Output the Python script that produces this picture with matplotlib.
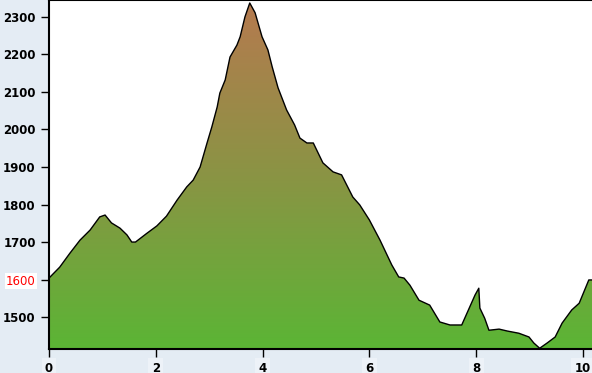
import numpy as np
import matplotlib
matplotlib.use("Agg")
import matplotlib.pyplot as plt
from matplotlib.colors import LinearSegmentedColormap

# elevation profile (distance, elevation)
dist = [0.0, 0.2, 0.39, 0.58, 0.77, 0.95, 1.05, 1.17, 1.33, 1.46, 1.55, 1.62,
        1.83, 2.02, 2.2, 2.4, 2.58, 2.7, 2.83, 2.96, 3.05, 3.15, 3.2, 3.3,
        3.39, 3.52, 3.58, 3.67, 3.76, 3.86, 3.99, 4.1, 4.18, 4.29, 4.45, 4.6,
        4.7, 4.83, 4.95, 5.13, 5.32, 5.48, 5.69, 5.82, 6.0, 6.2, 6.42, 6.55,
        6.65, 6.76, 6.93, 7.13, 7.32, 7.51, 7.73, 7.88, 7.98, 8.05, 8.07,
        8.16, 8.24, 8.43, 8.58, 8.8, 8.99, 9.08, 9.19, 9.33, 9.48, 9.61,
        9.79, 9.93, 10.11, 10.17]
elev = [1604, 1633, 1670, 1705, 1732, 1767, 1772, 1751, 1737, 1719, 1700, 1700,
        1723, 1743, 1769, 1812, 1847, 1865, 1900, 1964, 2007, 2060, 2097, 2132,
        2193, 2225, 2247, 2300, 2337, 2311, 2247, 2212, 2167, 2111, 2052, 2012,
        1977, 1964, 1964, 1911, 1887, 1879, 1820, 1799, 1759, 1705, 1639, 1607,
        1604, 1585, 1545, 1532, 1487, 1479, 1479, 1527, 1559, 1577, 1524,
        1497, 1465, 1468, 1463, 1457, 1447, 1431, 1417, 1431, 1447, 1484,
        1519, 1537, 1599, 1599]

y_ticks = [1500, 1600, 1700, 1800, 1900, 2000, 2100, 2200, 2300]
x_ticks = [0, 2, 4, 6, 8, 10]

x_min, x_max = 0, 10.17
y_min, y_max = 1415, 2345

bg = "#e4ecf4"
fig = plt.figure(figsize=(5.92, 3.73), dpi=100, facecolor=bg)
ax = fig.add_axes([49 / 592, 24 / 373, 1 - 49 / 592, 1 - 24 / 373])
ax.set_facecolor("white")

# green at the bottom, brown at the peak
cmap = LinearSegmentedColormap.from_list("terrain", ["#5bb535", "#8a9444", "#b57a4f"])
grad = np.linspace(0, 1, 256).reshape(-1, 1)
img = ax.imshow(grad, cmap=cmap, origin="lower", aspect="auto",
                extent=[x_min, x_max, y_min, max(elev)], zorder=1)
poly = ax.fill_between(dist, elev, y_min, color="none", lw=0)
clip = poly.get_paths()[0]
img.set_clip_path(clip, transform=ax.transData)
ax.plot(dist, elev, color="black", lw=1, zorder=3)

ax.set_xlim(x_min, x_max)
ax.set_ylim(y_min, y_max)
ax.set_xticks(x_ticks)
ax.set_yticks(y_ticks)
ax.tick_params(direction="out", length=6, width=1, colors="black")
ax.tick_params(axis="x", pad=3)

for lab in ax.get_xticklabels() + ax.get_yticklabels():
    lab.set_fontweight("bold")
    lab.set_fontsize(8.5)
for lab in ax.get_xticklabels():
    lab.set_bbox(dict(facecolor="#edf2f8", edgecolor="none", pad=2.5))

red = ax.get_yticklabels()[1]
red.set_color("red")
red.set_fontweight("normal")
red.set_bbox(dict(facecolor="white", edgecolor="none", pad=1))

for s in ["left", "bottom", "top"]:
    ax.spines[s].set_linewidth(1.5)
ax.spines["right"].set_visible(False)

fig.savefig("out.png", dpi=100, facecolor=bg)
